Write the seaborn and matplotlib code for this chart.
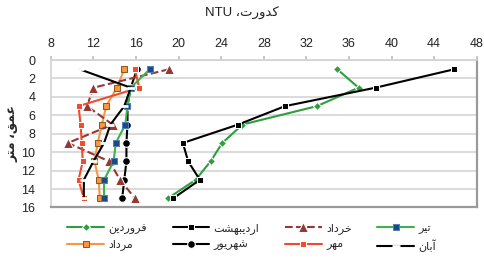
import matplotlib
matplotlib.use('Agg')
import matplotlib.pyplot as plt
import seaborn as sns
import pandas as pd

# depth (m) and turbidity (NTU) per month
DEPTHS = [1, 3, 5, 7, 9, 11, 13, 15]

farvardin = [34.9, 36.9, 33.0, 26.0, 24.1, 23.0, 21.6, 19.0]
ordibehesht = [45.9, 38.5, 30.0, 25.6, 20.4, 20.9, 22.0, 19.5]
khordad = [19.1, 12.0, 11.4, 13.8, 9.6, 13.5, 14.5, 15.9]
tir = [17.3, 15.5, 15.2, 15.0, 14.1, 13.9, 13.0, 13.0]
mordad = [14.9, 14.2, 13.2, 12.8, 12.4, 12.1, 12.5, 12.6]
shahrivar = [16.1, 15.5, 15.2, 15.2, 15.1, 15.1, 14.9, 14.7]
mehr = [15.9, 16.3, 10.6, 10.8, 10.9, 11.0, 10.6, 11.1]
aban = [10.7, 15.5, 14.9, 13.6, 13.0, 12.0, 11.1, 11.1]

X_TICKS = [8, 12, 16, 20, 24, 28, 32, 36, 40, 44, 48]
Y_TICKS = [0, 2, 4, 6, 8, 10, 12, 14, 16]

# minimal Persian shaping (matplotlib has no bidi / joining support)
FORMS = {
    'ا': ('\uFE8D', '\uFE8E', None, None),
    'آ': ('\uFE81', '\uFE82', None, None),
    'د': ('\uFEA9', '\uFEAA', None, None),
    'ر': ('\uFEAD', '\uFEAE', None, None),
    'و': ('\uFEED', '\uFEEE', None, None),
    'ب': ('\uFE8F', '\uFE90', '\uFE91', '\uFE92'),
    'ت': ('\uFE95', '\uFE96', '\uFE97', '\uFE98'),
    'خ': ('\uFEA5', '\uFEA6', '\uFEA7', '\uFEA8'),
    'ش': ('\uFEB5', '\uFEB6', '\uFEB7', '\uFEB8'),
    'ع': ('\uFEC9', '\uFECA', '\uFECB', '\uFECC'),
    'ف': ('\uFED1', '\uFED2', '\uFED3', '\uFED4'),
    'ق': ('\uFED5', '\uFED6', '\uFED7', '\uFED8'),
    'م': ('\uFEE1', '\uFEE2', '\uFEE3', '\uFEE4'),
    'ن': ('\uFEE5', '\uFEE6', '\uFEE7', '\uFEE8'),
    'ه': ('\uFEE9', '\uFEEA', '\uFEEB', '\uFEEC'),
    'ک': ('\uFB8E', '\uFB8F', '\uFB90', '\uFB91'),
    'ی': ('\uFBFC', '\uFBFD', '\uFBFE', '\uFBFF'),
}


def shape(text):
    out = []
    for i, c in enumerate(text):
        if c not in FORMS:
            out.append(c)
            continue
        iso, fin, ini, med = FORMS[c]
        prev = text[i - 1] if i > 0 else ''
        nxt = text[i + 1] if i + 1 < len(text) else ''
        join_prev = prev in FORMS and FORMS[prev][2] is not None
        join_next = ini is not None and nxt in FORMS
        if join_prev and join_next:
            out.append(med)
        elif join_prev:
            out.append(fin)
        elif join_next:
            out.append(ini)
        else:
            out.append(iso)
    return ''.join(reversed(out))


sns.set_theme(style='white')
plt.rcParams['font.family'] = ['Liberation Sans', 'DejaVu Sans']

fig = plt.figure(figsize=(4.84, 2.61), dpi=100)
ax = fig.add_axes([0.105, 0.205, 0.88, 0.565])

series = [
    ('فروردین', farvardin, dict(color='#2e9e3e', marker='D', markersize=4.5, linestyle='-')),
    ('مرداد', mordad, dict(color='#f79646', marker='s', markersize=4.5, markeredgecolor='#8a5a1a', linestyle='-')),
    ('اردیبهشت', ordibehesht, dict(color='black', marker='s', markersize=4.5, linestyle='-')),
    ('شهریور', shahrivar, dict(color='black', marker='o', markersize=5.5, linestyle='-')),
    ('خرداد', khordad, dict(color='#953735', marker='^', markersize=6.5, linestyle='--')),
    ('مهر', mehr, dict(color='#f24a2a', marker='s', markersize=5, linestyle='-')),
    ('تیر', tir, dict(color='#3bb34a', marker='s', markersize=4, markerfacecolor='#1f497d',
                       markeredgecolor='#4f81bd', linestyle='-')),
    ('آبان', aban, dict(color='black', marker='_', markersize=6, markeredgewidth=2, linestyle='-')),
]

for name, vals, style in series:
    df = pd.DataFrame({'ntu': vals, 'depth': DEPTHS})
    sns.lineplot(data=df, x='ntu', y='depth', orient='y', sort=False, estimator=None,
                 ax=ax, label=shape(name), linewidth=1.5, **style)

ax.set_xlim(8, 48)
ax.set_ylim(16, 0)
ax.set_xticks(X_TICKS)
ax.set_yticks(Y_TICKS)
ax.xaxis.tick_top()
ax.tick_params(axis='x', top=True, direction='out', length=3, color='#c0c0c0',
               labelsize=9, pad=4, colors='#222222')
ax.tick_params(axis='y', left=False, labelsize=9, pad=5, colors='#222222')
ax.yaxis.grid(True, color='#d4d4d4', linewidth=1.2)
ax.xaxis.grid(False)
ax.set_xlabel('')
ax.set_ylabel(shape('عمق، متر'), fontsize=9, fontweight='bold', labelpad=2)
for side in ['top', 'left']:
    ax.spines[side].set_color('#d4d4d4')
for side in ['right', 'bottom']:
    ax.spines[side].set_color('#9a9a9a')
    ax.spines[side].set_linewidth(1.6)

fig.text(0.5, 0.95, 'NTU ' + shape('کدورت،'), ha='center', va='center', fontsize=9.5, color='#222222')

handles, labels = ax.get_legend_handles_labels()
ax.get_legend().remove()
fig.legend(handles, labels, ncol=4, loc='center', bbox_to_anchor=(0.52, 0.09),
           frameon=False, fontsize=8, handlelength=3.3, columnspacing=2.3,
           handletextpad=0.4, labelspacing=0.5)

fig.savefig('out.png', dpi=100)
